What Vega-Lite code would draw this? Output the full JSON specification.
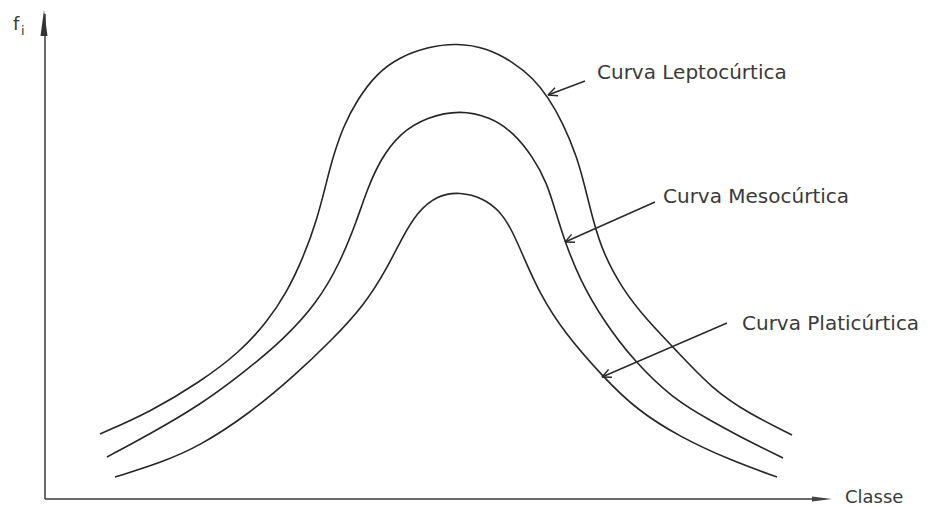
{
  "$schema": "https://vega.github.io/schema/vega-lite/v6.json",
  "width": 942,
  "height": 508,
  "padding": 0,
  "autosize": {"type": "fit", "contains": "padding"},
  "background": "white",
  "config": {"view": {"stroke": null}},
  "datasets": {
    "curves": [
      {"curva": "Leptocúrtica", "classe": 100, "f": 74},
      {"curva": "Leptocúrtica", "classe": 150, "f": 96},
      {"curva": "Leptocúrtica", "classe": 200, "f": 126},
      {"curva": "Leptocúrtica", "classe": 240, "f": 156},
      {"curva": "Leptocúrtica", "classe": 267, "f": 186},
      {"curva": "Leptocúrtica", "classe": 287, "f": 216},
      {"curva": "Leptocúrtica", "classe": 303, "f": 250},
      {"curva": "Leptocúrtica", "classe": 317, "f": 288},
      {"curva": "Leptocúrtica", "classe": 327, "f": 328},
      {"curva": "Leptocúrtica", "classe": 333, "f": 351},
      {"curva": "Leptocúrtica", "classe": 343, "f": 381},
      {"curva": "Leptocúrtica", "classe": 357, "f": 408},
      {"curva": "Leptocúrtica", "classe": 377, "f": 435},
      {"curva": "Leptocúrtica", "classe": 400, "f": 451},
      {"curva": "Leptocúrtica", "classe": 427, "f": 461},
      {"curva": "Leptocúrtica", "classe": 457, "f": 465},
      {"curva": "Leptocúrtica", "classe": 487, "f": 460},
      {"curva": "Leptocúrtica", "classe": 513, "f": 446},
      {"curva": "Leptocúrtica", "classe": 533, "f": 430},
      {"curva": "Leptocúrtica", "classe": 548, "f": 411},
      {"curva": "Leptocúrtica", "classe": 563, "f": 385},
      {"curva": "Leptocúrtica", "classe": 577, "f": 351},
      {"curva": "Leptocúrtica", "classe": 585, "f": 321},
      {"curva": "Leptocúrtica", "classe": 593, "f": 288},
      {"curva": "Leptocúrtica", "classe": 603, "f": 255},
      {"curva": "Leptocúrtica", "classe": 623, "f": 218},
      {"curva": "Leptocúrtica", "classe": 647, "f": 188},
      {"curva": "Leptocúrtica", "classe": 673, "f": 161},
      {"curva": "Leptocúrtica", "classe": 713, "f": 118},
      {"curva": "Leptocúrtica", "classe": 750, "f": 94},
      {"curva": "Leptocúrtica", "classe": 792, "f": 73},
      {"curva": "Mesocúrtica", "classe": 107, "f": 51},
      {"curva": "Mesocúrtica", "classe": 150, "f": 74},
      {"curva": "Mesocúrtica", "classe": 200, "f": 103},
      {"curva": "Mesocúrtica", "classe": 243, "f": 135},
      {"curva": "Mesocúrtica", "classe": 283, "f": 168},
      {"curva": "Mesocúrtica", "classe": 317, "f": 205},
      {"curva": "Mesocúrtica", "classe": 340, "f": 245},
      {"curva": "Mesocúrtica", "classe": 357, "f": 288},
      {"curva": "Mesocúrtica", "classe": 367, "f": 318},
      {"curva": "Mesocúrtica", "classe": 380, "f": 348},
      {"curva": "Mesocúrtica", "classe": 400, "f": 375},
      {"curva": "Mesocúrtica", "classe": 427, "f": 391},
      {"curva": "Mesocúrtica", "classe": 460, "f": 398},
      {"curva": "Mesocúrtica", "classe": 490, "f": 391},
      {"curva": "Mesocúrtica", "classe": 513, "f": 376},
      {"curva": "Mesocúrtica", "classe": 533, "f": 351},
      {"curva": "Mesocúrtica", "classe": 547, "f": 325},
      {"curva": "Mesocúrtica", "classe": 556, "f": 295},
      {"curva": "Mesocúrtica", "classe": 565, "f": 266},
      {"curva": "Mesocúrtica", "classe": 580, "f": 228},
      {"curva": "Mesocúrtica", "classe": 603, "f": 188},
      {"curva": "Mesocúrtica", "classe": 633, "f": 148},
      {"curva": "Mesocúrtica", "classe": 673, "f": 109},
      {"curva": "Mesocúrtica", "classe": 713, "f": 86},
      {"curva": "Mesocúrtica", "classe": 750, "f": 66},
      {"curva": "Mesocúrtica", "classe": 783, "f": 50},
      {"curva": "Platicúrtica", "classe": 115, "f": 31},
      {"curva": "Platicúrtica", "classe": 160, "f": 45},
      {"curva": "Platicúrtica", "classe": 200, "f": 62},
      {"curva": "Platicúrtica", "classe": 250, "f": 95},
      {"curva": "Platicúrtica", "classe": 293, "f": 131},
      {"curva": "Platicúrtica", "classe": 333, "f": 169},
      {"curva": "Platicúrtica", "classe": 365, "f": 204},
      {"curva": "Platicúrtica", "classe": 386, "f": 238},
      {"curva": "Platicúrtica", "classe": 401, "f": 268},
      {"curva": "Platicúrtica", "classe": 417, "f": 296},
      {"curva": "Platicúrtica", "classe": 438, "f": 313},
      {"curva": "Platicúrtica", "classe": 460, "f": 316},
      {"curva": "Platicúrtica", "classe": 483, "f": 310},
      {"curva": "Platicúrtica", "classe": 500, "f": 297},
      {"curva": "Platicúrtica", "classe": 512, "f": 278},
      {"curva": "Platicúrtica", "classe": 524, "f": 250},
      {"curva": "Platicúrtica", "classe": 540, "f": 214},
      {"curva": "Platicúrtica", "classe": 563, "f": 177},
      {"curva": "Platicúrtica", "classe": 603, "f": 131},
      {"curva": "Platicúrtica", "classe": 637, "f": 98},
      {"curva": "Platicúrtica", "classe": 680, "f": 71},
      {"curva": "Platicúrtica", "classe": 730, "f": 48},
      {"curva": "Platicúrtica", "classe": 777, "f": 31}
    ],
    "axes": [
      {"x": 45, "y": 9, "x2": 45, "y2": 494},
      {"x": 45, "y": 9, "x2": 825, "y2": 9}
    ],
    "arrows": [
      {"x": 585, "y": 427, "x2": 548, "y2": 413},
      {"x": 548, "y": 413, "x2": 558, "y2": 412.2},
      {"x": 548, "y": 413, "x2": 555, "y2": 420.2},
      {"x": 655, "y": 306, "x2": 565, "y2": 266},
      {"x": 565, "y": 266, "x2": 575, "y2": 265.8},
      {"x": 565, "y": 266, "x2": 571.6, "y2": 273.6},
      {"x": 727, "y": 185, "x2": 602, "y2": 131},
      {"x": 602, "y": 131, "x2": 612, "y2": 130.7},
      {"x": 602, "y": 131, "x2": 608.6, "y2": 138.5}
    ],
    "labels": [
      {"x": 597, "y": 429, "text": "Curva Leptocúrtica"},
      {"x": 663, "y": 305, "text": "Curva Mesocúrtica"},
      {"x": 742, "y": 178, "text": "Curva Platicúrtica"}
    ]
  },
  "layer": [
    {
      "data": {"name": "axes"},
      "mark": {"type": "rule", "color": "#3a3a3a", "strokeWidth": 1.5},
      "encoding": {
        "x": {"field": "x", "type": "quantitative", "scale": {"domain": [0, 942], "nice": false, "zero": false}, "axis": null},
        "y": {"field": "y", "type": "quantitative", "scale": {"domain": [0, 508], "nice": false, "zero": false}, "axis": null},
        "x2": {"field": "x2"},
        "y2": {"field": "y2"}
      }
    },
    {
      "data": {"values": [{"x": 44, "y": 485}]},
      "mark": {"type": "point", "shape": "M0,-1L0.27,1L-0.27,1Z", "size": 676, "filled": true, "color": "#333", "opacity": 1},
      "encoding": {
        "x": {"field": "x", "type": "quantitative", "axis": null},
        "y": {"field": "y", "type": "quantitative", "axis": null}
      }
    },
    {
      "data": {"values": [{"x": 822, "y": 9}]},
      "mark": {"type": "point", "shape": "M1,0L-1,-0.25L-1,0.25Z", "size": 400, "filled": true, "color": "#444", "opacity": 1},
      "encoding": {
        "x": {"field": "x", "type": "quantitative", "axis": null},
        "y": {"field": "y", "type": "quantitative", "axis": null}
      }
    },
    {
      "data": {"name": "curves"},
      "mark": {"type": "line", "interpolate": "basis", "color": "#262626", "strokeWidth": 1.6},
      "encoding": {
        "x": {"field": "classe", "type": "quantitative", "axis": null},
        "y": {"field": "f", "type": "quantitative", "axis": null},
        "detail": {"field": "curva", "type": "nominal"},
        "order": {"field": "classe", "type": "quantitative"}
      }
    },
    {
      "data": {"name": "arrows"},
      "mark": {"type": "rule", "color": "#2a2a2a", "strokeWidth": 1.4},
      "encoding": {
        "x": {"field": "x", "type": "quantitative", "axis": null},
        "y": {"field": "y", "type": "quantitative", "axis": null},
        "x2": {"field": "x2"},
        "y2": {"field": "y2"}
      }
    },
    {
      "data": {"name": "labels"},
      "mark": {"type": "text", "align": "left", "baseline": "alphabetic", "font": "DejaVu Sans", "fontSize": 20, "color": "#3a3a3a"},
      "encoding": {
        "x": {"field": "x", "type": "quantitative", "axis": null},
        "y": {"field": "y", "type": "quantitative", "axis": null},
        "text": {"field": "text"}
      }
    },
    {
      "data": {"values": [{"x": 845, "y": 5, "text": "Classe"}]},
      "mark": {"type": "text", "align": "left", "baseline": "alphabetic", "font": "DejaVu Sans", "fontSize": 18, "color": "#3a3a3a"},
      "encoding": {
        "x": {"field": "x", "type": "quantitative", "axis": null},
        "y": {"field": "y", "type": "quantitative", "axis": null},
        "text": {"field": "text"}
      }
    },
    {
      "data": {"values": [{"x": 13, "y": 478, "text": "f"}]},
      "mark": {"type": "text", "align": "left", "baseline": "alphabetic", "font": "DejaVu Sans", "fontSize": 18, "color": "#3a3a3a"},
      "encoding": {
        "x": {"field": "x", "type": "quantitative", "axis": null},
        "y": {"field": "y", "type": "quantitative", "axis": null},
        "text": {"field": "text"}
      }
    },
    {
      "data": {"values": [{"x": 21, "y": 473, "text": "i"}]},
      "mark": {"type": "text", "align": "left", "baseline": "alphabetic", "font": "DejaVu Sans", "fontSize": 13, "color": "#3a3a3a"},
      "encoding": {
        "x": {"field": "x", "type": "quantitative", "axis": null},
        "y": {"field": "y", "type": "quantitative", "axis": null},
        "text": {"field": "text"}
      }
    }
  ]
}
